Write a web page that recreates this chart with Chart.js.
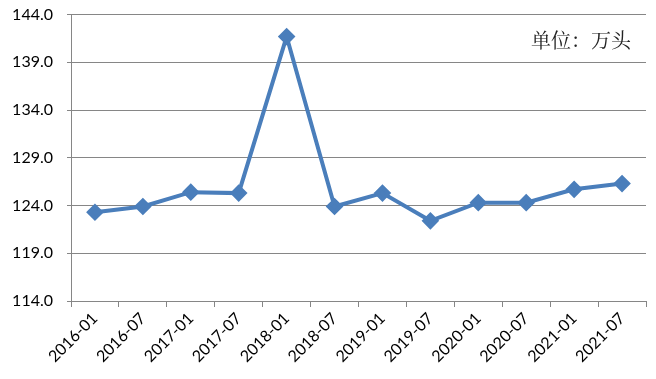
<!DOCTYPE html>
<html>
<head>
<meta charset="utf-8">
<script src="https://cdn.jsdelivr.net/npm/chart.js@4"></script>
<style>
html,body{margin:0;padding:0;background:#fff;overflow:hidden;}
#wrap{position:relative;width:656px;height:379px;overflow:hidden;}
#c{position:absolute;left:0;top:-9px;}
</style>
</head>
<body>
<div id="wrap"><canvas id="c" width="656" height="388"></canvas></div>
<script>
const categories = ["2016-01","2016-07","2017-01","2017-07","2018-01","2018-07","2019-01","2019-07","2020-01","2020-07","2021-01","2021-07"];
const values = [123.3, 123.9, 125.4, 125.3, 141.7, 123.9, 125.3, 122.4, 124.3, 124.3, 125.7, 126.3];
const unitLabel = "单位：万头";

const unitPlugin = {
  id: 'unit',
  afterDraw(chart) {
    const ctx = chart.ctx;
    ctx.save();
    ctx.font = '20px "Noto Serif CJK SC", "Noto Sans CJK SC", serif';
    ctx.fillStyle = '#222';
    ctx.textAlign = 'left';
    ctx.textBaseline = 'middle';
    ctx.fillText(unitLabel, 531, 49);
    ctx.restore();
  }
};

new Chart(document.getElementById('c'), {
  type: 'line',
  data: {
    labels: categories,
    datasets: [{
      data: values,
      borderColor: '#4a7ebb',
      backgroundColor: '#4a7ebb',
      borderWidth: 4,
      pointStyle: 'rectRot',
      pointRadius: 6,
      pointHoverRadius: 6,
      tension: 0
    }]
  },
  options: {
    responsive: false,
    animation: false,
    plugins: { legend: { display: false }, tooltip: { enabled: false } },
    layout: { padding: { top: 5, right: 6, left: 0, bottom: 0 } },
    scales: {
      x: {
        offset: true,
        grid: { offset: true, drawOnChartArea: false, tickLength: 6, color: '#868686' },
        border: { color: '#868686' },
        ticks: {
          minRotation: 45, maxRotation: 45, padding: 2,
          color: '#000',
          font: { family: 'Lato', size: 16 }
        },
        afterFit(s) { s.height = 78; }
      },
      y: {
        min: 114, max: 144,
        grid: { color: '#868686', tickLength: 4 },
        border: { color: '#868686' },
        ticks: {
          stepSize: 5,
          padding: 14,
          color: '#000',
          font: { family: 'Lato', size: 16 },
          callback: v => Number(v).toFixed(1)
        },
        afterFit(s) { s.width = 71; }
      }
    }
  },
  plugins: [unitPlugin]
});
</script>
</body>
</html>
